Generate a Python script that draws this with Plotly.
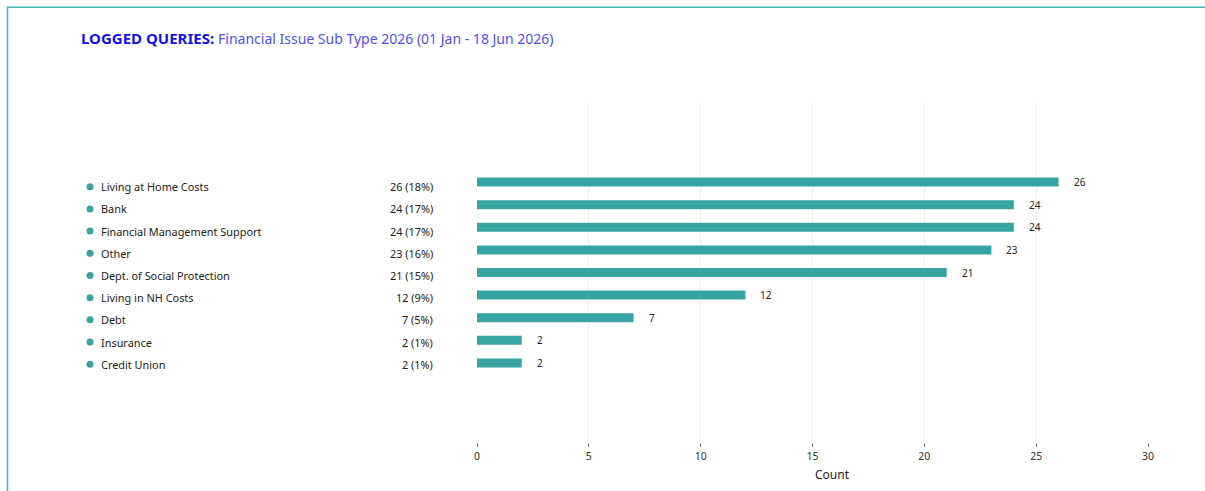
import plotly.graph_objects as go

# Financial issue sub types and their query counts
categories = [
    "Living at Home Costs",
    "Bank",
    "Financial Management Support",
    "Other",
    "Dept. of Social Protection",
    "Living in NH Costs",
    "Debt",
    "Insurance",
    "Credit Union",
]
counts = [26, 24, 24, 23, 21, 12, 7, 2, 2]
shares = ["18%", "17%", "17%", "16%", "15%", "9%", "5%", "1%", "1%"]
x_ticks = [0, 5, 10, 15, 20, 25, 30]

TEAL = "#37a4a4"
FRAME = "#3fb4b9"
FONT = "Noto Sans"

# pixel geometry of the plotting area
plot_l, plot_r, plot_t, plot_b = 477, 1148, 102.5, 442.5
def px_to_paper_x(px):
    return (px - plot_l) / (plot_r - plot_l)
def px_to_paper_y(py):
    return (plot_b - py) / (plot_b - plot_t)

fig = go.Figure(
    go.Bar(
        x=counts,
        y=categories,
        orientation="h",
        marker=dict(color=TEAL, line=dict(width=0)),
        width=0.4,
        hoverinfo="skip",
    )
)

annotations = []
shapes = []

# left-hand legend table: dot, name and "count (share)", rows 22.25 px apart
row_top, row_step = 186.5, 22.25
for i, (name, cnt, pct) in enumerate(zip(categories, counts, shares)):
    ry = px_to_paper_y(row_top + i * row_step)
    shapes.append(dict(
        type="circle", xref="paper", yref="paper",
        xsizemode="pixel", ysizemode="pixel",
        xanchor=0, yanchor=ry,
        x0=-390.5, x1=-383.5, y0=-3.5, y1=3.5,
        fillcolor=TEAL, line=dict(width=0),
    ))
    annotations.append(dict(
        xref="paper", yref="paper", x=0, y=ry, xshift=-378,
        text=name, showarrow=False, xanchor="left", yanchor="middle",
        font=dict(family=FONT, size=10.9, color="#222222"),
    ))
    annotations.append(dict(
        xref="paper", yref="paper", x=0, y=ry, xshift=-42,
        text=f"{cnt} ({pct})", showarrow=False, xanchor="right", yanchor="middle",
        font=dict(family=FONT, size=10.9, color="#222222"),
    ))
    # value label to the right of each bar
    annotations.append(dict(
        xref="x", yref="y", x=cnt, y=name, xshift=13,
        text=str(cnt), showarrow=False, xanchor="left", yanchor="middle",
        font=dict(family=FONT, size=10, color="#222222"),
    ))

# heading
annotations.append(dict(
    xref="paper", yref="paper", x=0, y=1, xshift=-398, yshift=65,
    text="<b>LOGGED QUERIES:</b> <span style='color:#5050f5;font-size:14px'>Financial Issue Sub Type 2026 (01 Jan - 18 Jun 2026)</span>",
    showarrow=False, xanchor="left", yanchor="middle",
    font=dict(family=FONT, size=15, color="#1111ee"),
))

# x-axis title, sitting a little right of the plot centre
annotations.append(dict(
    xref="paper", yref="paper", x=0.5, y=0, xshift=20, yshift=-32.5,
    text="Count", showarrow=False, xanchor="center", yanchor="middle",
    font=dict(family=FONT, size=12, color="#222222"),
))

# thin teal frame along the top and left edges
shapes.append(dict(
    type="line", xref="paper", yref="paper",
    x0=px_to_paper_x(7), x1=px_to_paper_x(1206),
    y0=px_to_paper_y(6.5), y1=px_to_paper_y(6.5),
    line=dict(color=FRAME, width=1.5),
))
shapes.append(dict(
    type="line", xref="paper", yref="paper",
    x0=px_to_paper_x(7.5), x1=px_to_paper_x(7.5),
    y0=px_to_paper_y(6), y1=px_to_paper_y(492),
    line=dict(color=FRAME, width=1.5),
))

fig.update_layout(
    width=1205, height=491,
    margin=dict(l=plot_l, r=1205 - plot_r, t=plot_t, b=491 - plot_b),
    paper_bgcolor="white", plot_bgcolor="white",
    showlegend=False,
    annotations=annotations,
    shapes=shapes,
    font=dict(family=FONT, color="#222222"),
    xaxis=dict(
        range=[0, 30], tickvals=x_ticks,
        showgrid=True, gridcolor="#efefef", gridwidth=1,
        zeroline=False, showline=False,
        ticks="outside", ticklen=4, tickcolor="#777777", tickwidth=1,
        tickfont=dict(family=FONT, size=10.5, color="#333333"),
    ),
    yaxis=dict(
        categoryorder="array", categoryarray=categories,
        range=[11.5, -3.5],
        showticklabels=False, showgrid=False, zeroline=False, showline=False,
        ticks="",
    ),
)

fig.write_html("out.html")
